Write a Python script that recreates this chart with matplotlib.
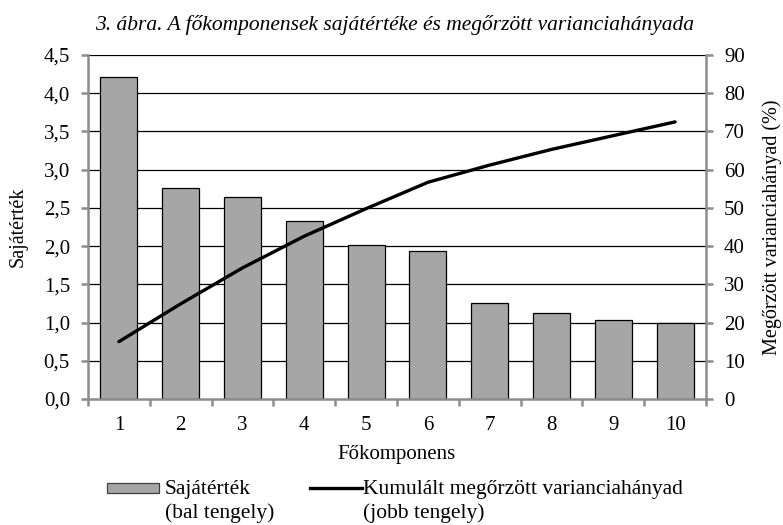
import matplotlib
matplotlib.use("Agg")
import matplotlib.pyplot as plt
from matplotlib.patches import Rectangle
from matplotlib.lines import Line2D
import numpy as np

plt.rcParams['font.family'] = ['Liberation Serif', 'DejaVu Serif']

# adatok
components = ['1', '2', '3', '4', '5', '6', '7', '8', '9', '10']
eigenvalues = [4.21, 2.76, 2.64, 2.33, 2.01, 1.94, 1.26, 1.13, 1.03, 1.00]
cum_variance = [15.0, 24.9, 34.3, 42.6, 49.8, 56.7, 61.2, 65.3, 68.9, 72.5]
left_ticks = [0.0, 0.5, 1.0, 1.5, 2.0, 2.5, 3.0, 3.5, 4.0, 4.5]
right_ticks = [0, 10, 20, 30, 40, 50, 60, 70, 80, 90]

W, H = 783, 525
fig = plt.figure(figsize=(W / 100, H / 100), dpi=100)
ax = fig.add_axes([88 / W, 1 - 399 / H, (706 - 88) / W, (399 - 55) / H])
ax2 = ax.twinx()

gray = '#8c8c8c'
fs = 15
x = np.arange(len(components))

# vízszintes rácsvonalak
ax.set_ylim(0, 4.5)
ax.set_yticks(left_ticks)
ax.set_yticklabels([f'{v:.1f}'.replace('.', ',') for v in left_ticks])
for v in left_ticks[1:]:
    ax.axhline(v, color='black', lw=0.9, zorder=1)

ax.bar(x, eigenvalues, width=0.6, color='#a6a6a6', edgecolor='black',
       linewidth=0.9, zorder=2)
ax.set_xlim(-0.5, len(components) - 0.5)
ax.set_xticks(x)
ax.set_xticklabels(components)
ax.set_xticks(np.arange(-0.5, len(components)), minor=True)

ax2.plot(x, cum_variance, color='black', lw=2.4, solid_capstyle='round', zorder=3)
ax2.set_ylim(0, 90)
ax2.set_yticks(right_ticks)

for a in (ax, ax2):
    a.spines['top'].set_visible(False)
    for s in ('left', 'right', 'bottom'):
        a.spines[s].set_color(gray)
        a.spines[s].set_linewidth(1.8)
ax.spines['right'].set_visible(False)
ax2.spines['left'].set_visible(False)
ax2.spines['bottom'].set_visible(False)

ax.tick_params(axis='y', direction='out', length=5, width=1.8, color=gray,
               labelsize=fs, pad=8)
ax.tick_params(axis='x', which='major', length=0, labelsize=fs, pad=12)
ax.tick_params(axis='x', which='minor', direction='out', length=5, width=1.8,
               color=gray)
ax2.tick_params(axis='y', direction='out', length=5, width=1.8, color=gray,
                labelsize=fs, pad=8)

ax.set_xlabel('Főkomponens', fontsize=fs)
ax.xaxis.set_label_coords(0.5, -0.135)
ax.set_ylabel('Sajátérték', fontsize=14.5)
ax.yaxis.set_label_coords(-0.097, 0.5)
ax2.set_ylabel('Megőrzött varianciahányad (%)', fontsize=14.5)
ax2.yaxis.set_label_coords(1.091, 0.5)

fig.text(95 / W, 1 - 30 / H,
         '3. ábra. A főkomponensek sajátértéke és megőrzött varianciahányada',
         ha='left', va='baseline', fontsize=15.5, style='italic')

# jelmagyarázat
fig.add_artist(Rectangle((107 / W, 1 - 493 / H), 52 / W, 10 / H,
                         transform=fig.transFigure, facecolor='#a6a6a6',
                         edgecolor='#404040', lw=0.9))
fig.add_artist(Line2D([310 / W, 362 / W], [1 - 488 / H, 1 - 488 / H],
                      transform=fig.transFigure, color='black', lw=2.4))
fig.text(165 / W, 1 - 494 / H, 'Sajátérték', fontsize=15.5, va='baseline')
fig.text(165 / W, 1 - 518 / H, '(bal tengely)', fontsize=15.5, va='baseline')
fig.text(363 / W, 1 - 494 / H, 'Kumulált megőrzött varianciahányad',
         fontsize=15.5, va='baseline')
fig.text(363 / W, 1 - 518 / H, '(jobb tengely)', fontsize=15.5, va='baseline')

fig.savefig('out.png', dpi=100)
